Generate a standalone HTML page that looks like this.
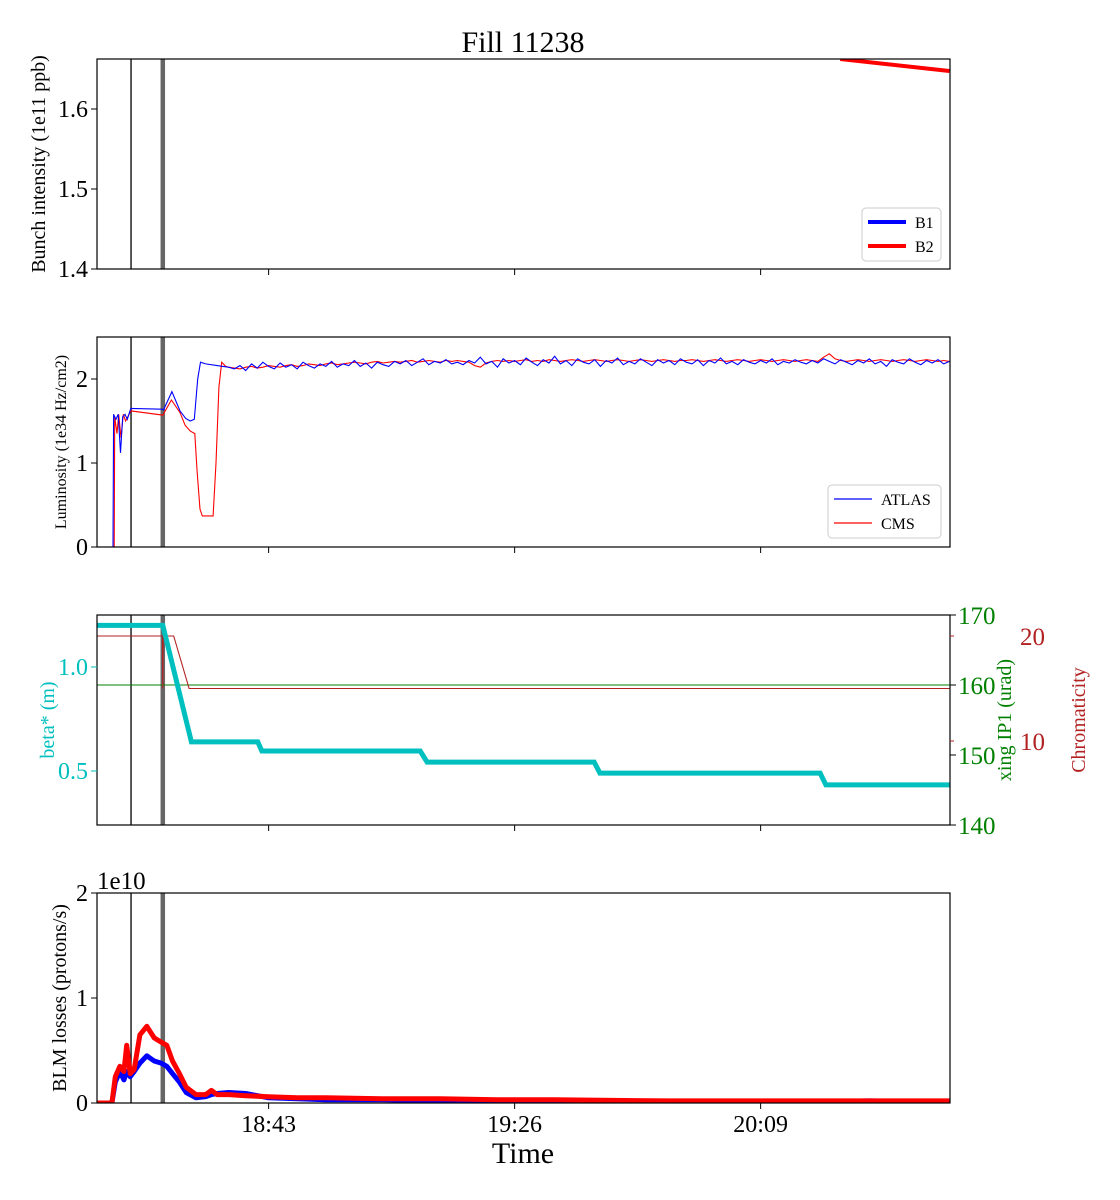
<!DOCTYPE html>
<html><head><meta charset="utf-8"><style>
html,body{margin:0;padding:0;background:#fff;}
svg{display:block;font-family:"Liberation Serif",serif;}
</style></head><body>
<svg id="chart" width="1120" height="1200" viewBox="0 0 1120 1200" xmlns="http://www.w3.org/2000/svg">
<text x="523" y="52" font-size="30" text-anchor="middle">Fill 11238</text>
</svg>
<script>
// ---- data (time in minutes from 18:13) ----
const xTickLabels = ["18:43","19:26","20:09"];
const xTickTimes = [30,73,116];
const b2T = [129.9,149];
const b2V = [1.6625,1.6475];
const atlasEarlyT = [0,2.8,2.9,3.3,3.7,4.1,4.5,4.9,5.3,5.9,11.4,11.6,13.1,14.5,15.5,16.3,17.0,17.6,18.1,19,21,22];
const atlasEarlyV = [0,0,1.58,1.52,1.58,1.12,1.55,1.58,1.52,1.65,1.64,1.63,1.85,1.62,1.53,1.50,1.52,2.0,2.2,2.18,2.16,2.15];
const atlasLateV = [2.14,2.12,2.16,2.10,2.18,2.13,2.20,2.15,2.12,2.19,
2.14,2.17,2.12,2.20,2.16,2.13,2.18,2.15,2.21,2.14,
2.18,2.16,2.22,2.15,2.19,2.13,2.20,2.17,2.15,2.21,
2.18,2.22,2.16,2.20,2.24,2.17,2.21,2.19,2.23,2.18,
2.20,2.17,2.22,2.19,2.26,2.18,2.21,2.14,2.24,2.19,
2.22,2.17,2.25,2.20,2.16,2.23,2.19,2.27,2.18,2.22,
2.16,2.24,2.20,2.18,2.23,2.15,2.22,2.19,2.25,2.17,
2.21,2.18,2.24,2.20,2.16,2.23,2.19,2.22,2.17,2.24,
2.20,2.18,2.23,2.16,2.22,2.19,2.25,2.18,2.21,2.17,
2.23,2.20,2.18,2.22,2.19,2.24,2.17,2.21,2.19,2.23,
2.20,2.18,2.22,2.19,2.24,2.21,2.18,2.23,2.20,2.17,
2.22,2.19,2.24,2.18,2.21,2.15,2.23,2.20,2.18,2.24,
2.20,2.17,2.22,2.19,2.23,2.18,2.21];
const cmsEarlyT = [0,3.0,3.1,3.5,3.8,4.2,4.6,5.0,5.9,11.5,13.0,14.5,15.4,16.3,17.1,17.5,18.0,18.4,20.3,20.8,21.3,21.8,22.5];
const cmsEarlyV = [0,0,1.55,1.35,1.58,1.3,1.58,1.5,1.62,1.57,1.75,1.6,1.45,1.38,1.35,0.9,0.45,0.37,0.37,1.0,1.9,2.2,2.15];
const cmsLateV = [2.14,2.13,2.12,2.14,2.15,2.13,2.14,2.16,2.15,2.14,
2.16,2.17,2.15,2.16,2.18,2.17,2.16,2.18,2.19,2.17,
2.18,2.19,2.20,2.19,2.18,2.20,2.21,2.19,2.20,2.21,
2.20,2.21,2.22,2.20,2.21,2.22,2.21,2.20,2.22,2.21,
2.22,2.21,2.20,2.16,2.14,2.19,2.21,2.22,2.21,2.22,
2.21,2.22,2.23,2.21,2.22,2.21,2.23,2.22,2.21,2.22,
2.23,2.22,2.21,2.22,2.23,2.22,2.21,2.22,2.23,2.22,
2.21,2.22,2.23,2.22,2.21,2.22,2.23,2.22,2.21,2.22,
2.22,2.23,2.22,2.21,2.22,2.23,2.22,2.21,2.22,2.23,
2.22,2.21,2.22,2.23,2.22,2.21,2.22,2.23,2.22,2.21,
2.22,2.23,2.22,2.21,2.26,2.30,2.24,2.22,2.21,2.22,
2.23,2.22,2.21,2.22,2.23,2.22,2.21,2.22,2.23,2.22,
2.21,2.22,2.23,2.22,2.21,2.22,2.21];
const betaT = [0,11.5,16.5,28.1,28.8,56.5,57.7,86.9,87.9,126.4,127.4,149];
const betaV = [1.2,1.2,0.64,0.64,0.596,0.596,0.543,0.543,0.49,0.49,0.433,0.433];
const chromaT = [0,11.45,11.5,11.55,13.4,16.1,149];
const chromaV = [20,20,15,20,20,15,15];
const xingT = [0,149];
const xingV = [160,160];
const blmT = [0,2.6,3.2,4,4.7,5.2,5.8,6.5,7.5,8.7,10,11.2,12.2,13.2,14.4,15.6,17.3,19,20,21,23,26,30,35,40,50,60,70,80,100,120,135,149];
const blmB1 = [0,0,0.2,0.3,0.22,0.3,0.25,0.3,0.38,0.45,0.4,0.38,0.35,0.28,0.2,0.1,0.05,0.06,0.08,0.09,0.1,0.09,0.05,0.04,0.03,0.03,0.02,0.02,0.01,0.01,0.01,0.02,0.01];
const blmB2 = [0,0,0.25,0.35,0.3,0.55,0.28,0.32,0.65,0.73,0.62,0.58,0.55,0.4,0.28,0.15,0.08,0.08,0.12,0.08,0.08,0.07,0.06,0.05,0.05,0.04,0.04,0.03,0.03,0.02,0.02,0.02,0.02];
const markerT = [5.95,11.5];

// ---- layout ----
const svg = document.getElementById('chart');
const NS = 'http://www.w3.org/2000/svg';
const X0 = 97, X1 = 950, T0 = 0, T1 = 149.1;
function xs(t){ return X0 + (t - T0) / (T1 - T0) * (X1 - X0); }
function mk(tag, attrs, parent){ const e = document.createElementNS(NS, tag); for (const k in attrs) e.setAttribute(k, attrs[k]); (parent||svg).appendChild(e); return e; }
function txt(s, attrs, parent){ const e = mk('text', attrs, parent); e.textContent = s; return e; }
function yScale(top, bot, vmin, vmax){ return v => bot - (v - vmin) / (vmax - vmin) * (bot - top); }
function pathOf(T, V, ys){ return T.map((t,i)=> (i?'L':'M') + xs(t).toFixed(1) + ',' + ys(V[i]).toFixed(1)).join(''); }

const lateT = []; for (let t = 23; t <= 149; t++) lateT.push(t);

function panel(name, top, bot){
  const g = mk('g', {});  
  const cp = mk('clipPath', {id: 'clip-' + name}, g);
  mk('rect', {x: X0, y: top, width: X1 - X0, height: bot - top}, cp);
  const plot = mk('g', {'clip-path': 'url(#clip-' + name + ')'}, g);
  return {g, plot, top, bot};
}
function frame(p){
  const r = mk('rect', {x: X0, y: p.top, width: X1 - X0, height: p.bot - p.top, fill: 'none', stroke: '#000', 'stroke-width': 1.2}, p.g);
   
  xTickTimes.forEach(t => mk('line', {x1: xs(t), x2: xs(t), y1: p.bot, y2: p.bot + 6, stroke: '#000'}, p.g));
}
function markers(p){
  const l1 = mk('line', {x1: xs(markerT[0]), x2: xs(markerT[0]), y1: p.top, y2: p.bot, stroke: '#000', 'stroke-width': 1.3}, p.plot);
   
  const l2 = mk('line', {x1: xs(markerT[1]), x2: xs(markerT[1]), y1: p.top, y2: p.bot, stroke: '#666', 'stroke-width': 4.5}, p.plot);
   
}
function yTicks(p, ys, vals, labels, color, side, fs){
  vals.forEach((v,i) => {
    const y = ys(v);
    if (side === 'left'){
      mk('line', {x1: X0 - 6, x2: X0, y1: y, y2: y, stroke: color}, p.g);
      const t = txt(labels[i], {x: X0 - 9, y: y + 8, 'font-size': fs||24, 'text-anchor': 'end', fill: color}, p.g);
       
    } else {
      mk('line', {x1: X1, x2: X1 + 6, y1: y, y2: y, stroke: color}, p.g);
    }
  });
}
function ylabel(s, x, y, fs, color){
  const t = txt(s, {x: x, y: y, 'font-size': fs, 'text-anchor': 'middle', fill: color||'#000', transform: 'rotate(-90 ' + x + ' ' + y + ')'});
   
}
function legend(x, y, w, items, lw){
  const g = mk('g', {});  
  mk('rect', {x: x, y: y, width: w, height: 53, rx: 4, fill: '#fff', stroke: '#ccc'}, g);
  items.forEach((it,i) => {
    const yy = y + 14 + i * 24;
    const ln = mk('line', {x1: x + 6, x2: x + 44, y1: yy, y2: yy, stroke: it[1], 'stroke-width': lw}, g);
     
    const t = txt(it[0], {x: x + 53, y: yy + 6, 'font-size': 16}, g);
     
  });
}

// Panel 1: bunch intensity
const p1 = panel('intensity-panel', 59, 269);
const y1 = yScale(59, 269, 1.4, 1.6625);
markers(p1);
const b2 = mk('path', {d: pathOf(b2T, b2V, y1), fill: 'none', stroke: '#f00', 'stroke-width': 4}, p1.plot);
 
frame(p1);
yTicks(p1, y1, [1.4,1.5,1.6], ['1.4','1.5','1.6'], '#000', 'left');
ylabel('Bunch intensity (1e11 ppb)', 45, 164, 20);
legend(862, 208, 79, [['B1','#00f'],['B2','#f00']], 4);

// Panel 2: luminosity
const p2 = panel('luminosity-panel', 337, 547);
const y2 = yScale(337, 547, 0, 2.5);
markers(p2);
const cms = mk('path', {d: pathOf(cmsEarlyT.concat(lateT), cmsEarlyV.concat(cmsLateV), y2), fill: 'none', stroke: '#f00', 'stroke-width': 1.1}, p2.plot);
 
const atl = mk('path', {d: pathOf(atlasEarlyT.concat(lateT), atlasEarlyV.concat(atlasLateV), y2), fill: 'none', stroke: '#00f', 'stroke-width': 1.1}, p2.plot);
 
frame(p2);
yTicks(p2, y2, [0,1,2], ['0','1','2'], '#000', 'left');
ylabel('Luminosity (1e34 Hz/cm2)', 66, 442, 16);
legend(828, 485, 113, [['ATLAS','#00f'],['CMS','#f00']], 1.2);

// Panel 3: beta*, xing, chroma
const p3 = panel('optics-panel', 615, 825);
const y3 = yScale(615, 825, 0.2404, 1.25);
const y3x = yScale(615, 825, 140, 170);
const y3c = yScale(615, 825, 2, 22);
markers(p3);
const xg = mk('path', {d: pathOf(xingT, xingV, y3x), fill: 'none', stroke: '#008000', 'stroke-width': 1.1}, p3.plot);
 
const ch = mk('path', {d: pathOf(chromaT, chromaV, y3c), fill: 'none', stroke: '#b22222', 'stroke-width': 1.1}, p3.plot);
 
const bt = mk('path', {d: pathOf(betaT, betaV, y3), fill: 'none', stroke: '#00bfbf', 'stroke-width': 5}, p3.plot);
 
frame(p3);
yTicks(p3, y3, [0.5,1.0], ['0.5','1.0'], '#00bfbf', 'left');
[140,150,160,170].forEach(v => {
  mk('line', {x1: X1, x2: X1 + 6, y1: y3x(v), y2: y3x(v), stroke: '#000'}, p3.g);
  const t = txt(String(v), {x: X1 + 8, y: y3x(v) + 9, 'font-size': 25, fill: '#008000'}, p3.g);
   
});
[10,20].forEach(v => {
  mk('line', {x1: X1, x2: X1 + 4, y1: y3c(v), y2: y3c(v), stroke: '#b22222'}, p3.g);
  const t = txt(String(v), {x: 1020, y: y3c(v) + 9, 'font-size': 25, fill: '#b22222'}, p3.g);
   
});
ylabel('beta* (m)', 54, 720, 20, '#00bfbf');
ylabel('xing IP1 (urad)', 1011, 720, 20, '#008000');
ylabel('Chromaticity', 1085, 720, 20, '#b22222');

// Panel 4: BLM losses
const p4 = panel('blm-panel', 893, 1103);
const y4 = yScale(893, 1103, 0, 2);
markers(p4);
const bl1 = mk('path', {d: pathOf(blmT, blmB1, y4), fill: 'none', stroke: '#00f', 'stroke-width': 5, 'stroke-linejoin': 'round'}, p4.plot);
 
const bl2 = mk('path', {d: pathOf(blmT, blmB2, y4), fill: 'none', stroke: '#f00', 'stroke-width': 5, 'stroke-linejoin': 'round'}, p4.plot);
 
frame(p4);
yTicks(p4, y4, [0,1,2], ['0','1','2'], '#000', 'left');
const off = txt('1e10', {x: 97, y: 889, 'font-size': 25});
 
ylabel('BLM losses (protons/s)', 66, 998, 20);
xTickTimes.forEach((t,i) => {
  const e = txt(xTickLabels[i], {x: xs(t), y: 1132, 'font-size': 24, 'text-anchor': 'middle'});
   
});
const xt = txt('Time', {x: 523, y: 1163, 'font-size': 30, 'text-anchor': 'middle'});
 
</script>
</body></html>
